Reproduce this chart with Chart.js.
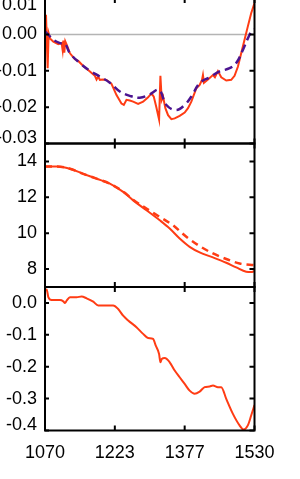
<!DOCTYPE html>
<html>
<head>
<meta charset="utf-8">
<script src="https://cdn.jsdelivr.net/npm/chart.js@4"></script>
<style>
  body { margin: 0; background: #fff; }
  #wrap { position: relative; width: 300px; height: 479px; overflow: hidden; }
  canvas { position: absolute; left: 0; }
</style>
</head>
<body>
<div id="wrap">
  <canvas id="c1" width="300" height="170" style="top:-10px"></canvas>
  <canvas id="c2" width="300" height="170" style="top:130px"></canvas>
  <canvas id="c3" width="300" height="204" style="top:275px"></canvas>
</div>
<script>
// shared x axis
const xTickValues = [1070, 1223.33, 1376.67, 1530];
const xTickLabels = ['1070', '1223', '1377', '1530'];

// panel 1: residual (solid) and smooth fit (dashed)
const resX = [1070, 1072.2, 1075.8, 1078.0, 1081.0, 1088.3, 1099.2, 1106.5, 1108.7, 1110.2, 1112.4, 1114.5, 1118.9, 1124.8,
  1135.7, 1143.0, 1154.0, 1168.6, 1179.5, 1183.2, 1186.8, 1190.5, 1197.8, 1205.1, 1216.0, 1227.0, 1237.9, 1243.1,
  1248.9, 1256.2, 1263.5, 1274.5, 1285.4, 1296.4, 1303.7, 1308.8, 1314.6, 1320.5, 1323.4, 1326.3, 1329.2, 1334.3,
  1340.2, 1347.5, 1354.8, 1365.7, 1376.7, 1384.0, 1391.3, 1402.3, 1409.6, 1414.7, 1416.8, 1419.0, 1427.8, 1438.7,
  1443.1, 1449.7, 1457.0, 1468.0, 1478.9, 1486.2, 1493.5, 1500.8, 1508.1, 1515.4, 1522.7, 1530];
const resY = [0.0026, 0.0054, -0.0093, 0.0003, -0.0011, -0.0020, -0.0027, -0.0024, -0.0043, -0.0017, -0.0050, -0.0019, -0.0032, -0.0052,
  -0.0068, -0.0073, -0.0087, -0.0102, -0.0114, -0.0124, -0.0116, -0.0125, -0.0124, -0.0125, -0.0136, -0.0167, -0.0190, -0.0194,
  -0.0180, -0.0182, -0.0185, -0.0191, -0.0185, -0.0173, -0.0162, -0.0171, -0.0201, -0.0234, -0.0114, -0.0180, -0.0171, -0.0203,
  -0.0222, -0.0233, -0.0231, -0.0224, -0.0215, -0.0203, -0.0185, -0.0148, -0.0139, -0.0125, -0.0112, -0.0133, -0.0124, -0.0112,
  -0.0118, -0.0101, -0.0118, -0.0127, -0.0125, -0.0114, -0.0089, -0.0052, -0.0015, 0.0022, 0.0058, 0.0086];
const fitX = [1070, 1077.3, 1088.3, 1102.9, 1113.8, 1124.8, 1146.7, 1168.6, 1190.5, 1212.4, 1234.3, 1256.2, 1278.1, 1300.0,
  1320.5, 1336.5, 1358.4, 1376.7, 1391.3, 1409.6, 1431.5, 1453.4, 1475.3, 1489.9, 1504.5, 1515.4, 1524.9, 1530];
const fitY = [0.0008, -0.0001, -0.0015, -0.0024, -0.0026, -0.0052, -0.0079, -0.0100, -0.0116, -0.0133, -0.0157, -0.0169, -0.0174, -0.0165,
  -0.0153, -0.0194, -0.0208, -0.0194, -0.0171, -0.0134, -0.0118, -0.0102, -0.0093, -0.0079, -0.0043, -0.0011, 0.0011, 0.0014];
const y1Ticks = [0.01, 0, -0.01, -0.02, -0.03];
const y1Labels = ['0.01', '0.00', '-0.01', '-0.02', '-0.03'];

// panel 2: solid and dashed curves
const solidX = [1070, 1095.6, 1124.8, 1154.0, 1183.2, 1212.4, 1241.6, 1263.5, 1292.7, 1321.9, 1343.8, 1365.7, 1387.6,
  1409.6, 1438.8, 1468.0, 1489.9, 1511.8, 1522.7, 1530];
const solidY = [13.72, 13.72, 13.59, 13.31, 13.04, 12.76, 12.30, 11.83, 11.28, 10.72, 10.26, 9.70, 9.24,
  8.93, 8.65, 8.35, 8.09, 7.85, 7.83, 7.89];
const dashX = [1070, 1095.6, 1124.8, 1154.0, 1183.2, 1212.4, 1241.6, 1263.5, 1292.7, 1321.9, 1351.1, 1380.3, 1409.6,
  1438.8, 1468.0, 1497.2, 1530];
const dashY = [13.72, 13.72, 13.59, 13.31, 13.04, 12.76, 12.32, 11.87, 11.37, 10.91, 10.44, 9.80, 9.28,
  8.87, 8.56, 8.31, 8.22];
const y2Ticks = [14, 12, 10, 8];
const y2Labels = ['14', '12', '10', '8'];

// panel 3
const lowX = [1070, 1073.7, 1077.3, 1084.6, 1102.9, 1110.2, 1113.8, 1117.5, 1124.8, 1139.4, 1150.3, 1161.3, 1175.9,
  1186.8, 1205.1, 1219.7, 1230.6, 1241.6, 1252.6, 1270.8, 1285.4, 1296.4, 1307.3, 1313.2, 1320.5, 1323.4, 1326.3,
  1332.9, 1343.8, 1354.8, 1365.7, 1376.7, 1387.6, 1398.6, 1409.6, 1420.5, 1431.5, 1438.8, 1449.7, 1457.0, 1468.0,
  1482.6, 1497.2, 1505.9, 1515.4, 1522.7, 1530];
const lowY = [0.038, 0.042, 0.018, 0.009, 0.009, 0.005, 0.0, 0.007, 0.018, 0.018, 0.020, 0.0145, 0.004,
  -0.008, -0.008, -0.008, -0.019, -0.040, -0.055, -0.076, -0.097, -0.110, -0.113, -0.134, -0.160, -0.186, -0.176,
  -0.173, -0.186, -0.212, -0.233, -0.254, -0.275, -0.285, -0.278, -0.264, -0.262, -0.259, -0.264, -0.264, -0.301,
  -0.348, -0.384, -0.397, -0.384, -0.353, -0.320];
const y3Ticks = [0, -0.1, -0.2, -0.3, -0.4];
const y3Labels = ['0.0', '-0.1', '-0.2', '-0.3', '-0.4'];

const RED = '#ff3c14';
const PURPLE = '#4b1490';
const FONT = '"Liberation Sans", Arial, sans-serif';

function pts(xs, ys) {
  return xs.map((x, i) => ({ x: x, y: ys[i] }));
}

// box, inward ticks and y labels, IDL style
const framePlugin = {
  id: 'frame',
  afterDraw(chart, args, opts) {
    const ctx = chart.ctx;
    const a = chart.chartArea;
    const xs = chart.scales.x;
    const ys = chart.scales.y;
    ctx.save();
    ctx.strokeStyle = '#000';
    ctx.lineWidth = 2;
    ctx.strokeRect(a.left, a.top, a.right - a.left, a.bottom - a.top);
    ctx.beginPath();
    xTickValues.forEach(v => {
      const px = xs.getPixelForValue(v);
      ctx.moveTo(px, a.top); ctx.lineTo(px, a.top + 5);
      ctx.moveTo(px, a.bottom); ctx.lineTo(px, a.bottom - 5);
    });
    opts.ticks.forEach(v => {
      const py = ys.getPixelForValue(v);
      ctx.moveTo(a.left, py); ctx.lineTo(a.left + 4, py);
      ctx.moveTo(a.right, py); ctx.lineTo(a.right - 5, py);
    });
    ctx.stroke();
    ctx.fillStyle = '#000';
    ctx.font = '18px ' + FONT;
    ctx.textAlign = 'right';
    ctx.textBaseline = 'middle';
    opts.ticks.forEach((v, i) => {
      let py = ys.getPixelForValue(v);
      py = Math.min(Math.max(py, a.top + 7), a.bottom - 5);
      ctx.fillText(opts.labels[i], a.left - 8, py);
    });
    ctx.restore();
  }
};

function makeChart(id, datasets, yMin, yMax, yTicks, yLabels, pad, showX) {
  const ctx = document.getElementById(id).getContext('2d');
  return new Chart(ctx, {
    type: 'line',
    data: { datasets: datasets },
    options: {
      responsive: false,
      animation: false,
      devicePixelRatio: 1,
      layout: { padding: { top: pad.top, bottom: pad.bottom, left: 0, right: 45.5 } },
      plugins: {
        legend: { display: false },
        tooltip: { enabled: false },
        frame: { ticks: yTicks, labels: yLabels }
      },
      elements: { point: { radius: 0 } },
      scales: {
        x: {
          type: 'linear',
          min: 1070,
          max: 1530,
          display: showX,
          grid: { display: false, drawTicks: false },
          border: { display: false },
          afterBuildTicks: s => { s.ticks = xTickValues.map(v => ({ value: v })); },
          afterFit: s => { if (showX) s.height = pad.xHeight; },
          ticks: {
            padding: 12,
            color: '#000',
            font: { size: 18, family: FONT },
            maxRotation: 0,
            autoSkip: false,
            callback: (v, i) => xTickLabels[i]
          }
        },
        y: {
          min: yMin,
          max: yMax,
          grid: { display: false, drawTicks: false },
          border: { display: false },
          ticks: { display: false },
          afterBuildTicks: s => { s.ticks = yTicks.map(v => ({ value: v })); },
          afterFit: s => { s.width = 45; }
        }
      }
    },
    plugins: [framePlugin]
  });
}

// panel 1
makeChart('c1', [
  { data: pts(fitX, fitY), borderColor: PURPLE, borderWidth: 2.5, borderDash: [8, 5], tension: 0.4, order: 1 },
  { data: pts(resX, resY), borderColor: RED, borderWidth: 2, tension: 0, order: 2 },
  { data: pts([1070, 1530], [0, 0]), borderColor: '#b4b4b4', borderWidth: 1.5, order: 3 }
], -0.03, 0.01, y1Ticks, y1Labels, { top: 8, bottom: 16.5 }, false);

// panel 2
makeChart('c2', [
  { data: pts(dashX, dashY), borderColor: RED, borderWidth: 2.5, borderDash: [7, 5], cubicInterpolationMode: 'monotone', order: 1 },
  { data: pts(solidX, solidY), borderColor: RED, borderWidth: 2, cubicInterpolationMode: 'monotone', order: 2 }
], 7, 15, y2Ticks, y2Labels, { top: 13.5, bottom: 13 }, false);

// panel 3
makeChart('c3', [
  { data: pts(lowX, lowY), borderColor: RED, borderWidth: 2, cubicInterpolationMode: 'monotone' }
], -0.4, 0.05, y3Ticks, y3Labels, { top: 12, bottom: 0, xHeight: 48.5 }, true);
</script>
</body>
</html>
